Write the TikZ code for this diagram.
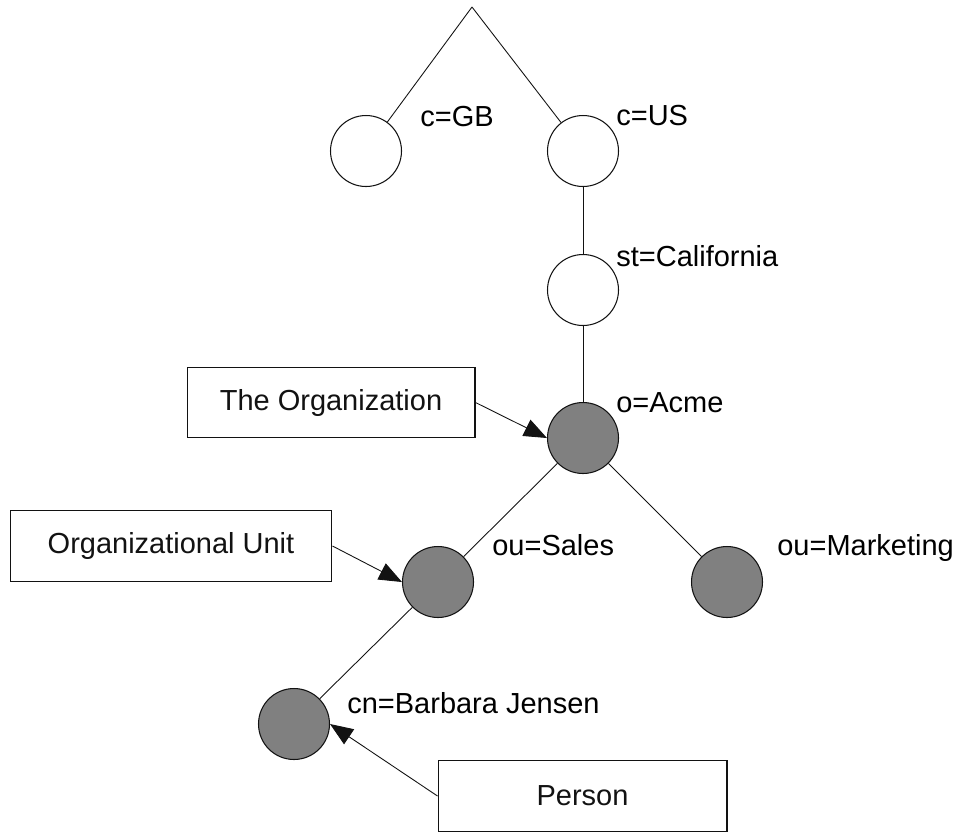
\documentclass[tikz,border=0pt]{standalone}
\usepackage{fontspec}
\setmainfont{Liberation Sans}
\usepackage{tikz}
\usepackage{xcolor}
\usetikzlibrary{arrows.meta}
\usetikzlibrary{positioning}

\begin{document}
\begin{tikzpicture}[x={0.02cm}, y={-0.02cm},
		entry/.style={circle, draw, line width={0.6pt}, color={ALMOST_BLACK!100}, minimum size={1.42cm}, inner sep={0pt}},
		objclass/.style={entry, fill={NODE_GRAY!100}},
		rdn/.style={anchor=base west, inner sep={0pt}, font={\fontsize{16.5}{20}\selectfont}},
		typebox/.style={draw, line width={0.6pt}, color={ALMOST_BLACK!100}, minimum height={1.41cm}, inner sep={0pt}, font={\fontsize{16.5}{20}\selectfont}},
		branch/.style={line width={0.5pt}, color={ALMOST_BLACK!100}},
		pointer/.style={line width={0.5pt}, color={ALMOST_BLACK!100}, -{Triangle[length={0.46cm}, width={0.36cm}]}}]
				\definecolor{WHITE}{RGB}{255, 255, 255}
				\definecolor{ALMOST_BLACK}{RGB}{18, 18, 18}
				\definecolor{NODE_GRAY}{RGB}{128, 128, 128}
				\useasboundingbox[fill={WHITE!100}] (0, 0) rectangle (960, 833);

				% the tree
				\coordinate (root) at (472, 7);
				\node[entry] (gb) at (366, 151) {};
				\node[entry] (us) at (583, 151) {};
				\node[entry] (california) at (583, 290) {};
				\node[objclass] (acme) at (583, 438) {};
				\node[objclass] (sales) at (438, 582) {};
				\node[objclass] (marketing) at (727, 582) {};
				\node[objclass] (barbara) at (294, 724) {};

				\node[rdn] (gbname) at (420, 126) {c=GB};
				\node[rdn] (usname) at (616, 125) {c=US};
				\node[rdn] (californianame) at (616, 266) {st=California};
				\node[rdn] (acmename) at (616, 412) {o=Acme};
				\node[rdn] (salesname) at (492, 555) {ou=Sales};
				\node[rdn] (marketingname) at (777, 555) {ou=Marketing};
				\node[rdn] (barbaraname) at (347, 713) {cn=Barbara Jensen};

				\draw[branch] (root) -- (gb);
				\draw[branch] (root) -- (us);
				\draw[branch] (us) -- (california);
				\draw[branch] (california) -- (acme);
				\draw[branch] (acme) -- (sales);
				\draw[branch] (acme) -- (marketing);
				\draw[branch] (sales) -- (barbara);

				% object classes
				\node[typebox, minimum width={5.76cm}] (organization) at (331, 402.5) {The Organization};
				\node[typebox, minimum width={6.44cm}] (orgunit) at (171, 546) {Organizational Unit};
				\node[typebox, minimum width={5.78cm}] (person) at (582.5, 796) {Person};

				\draw[pointer] (organization.east) -- (acme.west);
				\draw[pointer] (orgunit.east) -- (sales.west);
				\draw[pointer] (person.west) -- (barbara.east);
			\end{tikzpicture}
\end{document}
